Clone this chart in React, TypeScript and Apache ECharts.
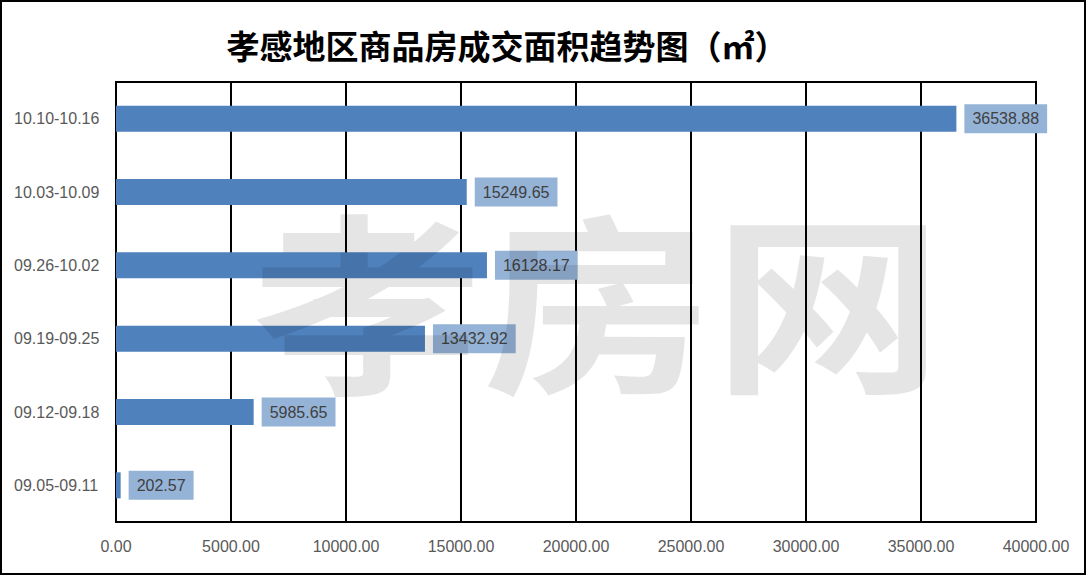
import React, { useEffect, useRef } from "react";
import * as echarts from "echarts";

const categories = ["09.05-09.11", "09.12-09.18", "09.19-09.25", "09.26-10.02", "10.03-10.09", "10.10-10.16"];
const areaValues = [202.57, 5985.65, 13432.92, 16128.17, 15249.65, 36538.88];
const titleText = "孝感地区商品房成交面积趋势图（㎡）";
const watermarkText = "孝房网";

export default function App() {
  const ref = useRef<HTMLDivElement>(null);
  useEffect(() => {
    if (!ref.current) return;
    const chart = echarts.init(ref.current, null, { renderer: "svg" });
    chart.setOption({
      animation: false,
      backgroundColor: "#ffffff",
      title: {
        text: titleText,
        left: 502,
        top: 23,
        textAlign: "center",
        textStyle: { fontFamily: "Noto Sans CJK SC", fontSize: 33, fontWeight: "bold", color: "#000" },
      },
      grid: { left: 116, right: 51, top: 82, bottom: 54, show: true, borderColor: "#000", borderWidth: 2 },
      xAxis: {
        type: "value",
        min: 0,
        max: 40000,
        interval: 5000,
        axisLine: { show: true, lineStyle: { color: "#000", width: 2 } },
        axisTick: { show: false },
        splitLine: { show: true, lineStyle: { color: "#000", width: 2 } },
        axisLabel: {
          margin: 16,
          color: "#595959",
          fontSize: 16,
          fontFamily: "Liberation Sans",
          formatter: (v: number) => v.toFixed(2),
        },
      },
      yAxis: {
        type: "category",
        data: categories,
        axisLine: { show: true, lineStyle: { color: "#000", width: 2 } },
        axisTick: { show: false },
        axisLabel: { align: "left", margin: 102, color: "#595959", fontSize: 16, fontFamily: "Liberation Sans" },
      },
      series: [
        {
          type: "bar",
          data: areaValues,
          barWidth: 26,
          itemStyle: { color: "#4f81bd" },
          label: {
            show: true,
            position: "right",
            distance: 8,
            backgroundColor: "#95b3d7",
            padding: [7, 8, 6, 8],
            color: "#404040",
            fontSize: 16,
            fontFamily: "Liberation Sans",
            formatter: (p: any) => Number(p.value).toFixed(2),
          },
        },
      ],
      graphic: [
        {
          type: "text",
          z: 100,
          x: 252,
          y: 198,
          scaleX: 1.2,
          style: {
            text: watermarkText,
            font: "bold 192px 'Noto Sans CJK SC'",
            fill: "rgba(0,0,0,0.1)",
          },
        },
        {
          type: "rect",
          z: 101,
          shape: { x: 1, y: 1, width: 1084, height: 573 },
          style: { fill: "none", stroke: "#000", lineWidth: 2 },
        },
      ],
    });
    return () => chart.dispose();
  }, []);
  return <div ref={ref} style={{ position: "fixed", left: 0, top: 0, width: 1087, height: 576 }} />;
}
